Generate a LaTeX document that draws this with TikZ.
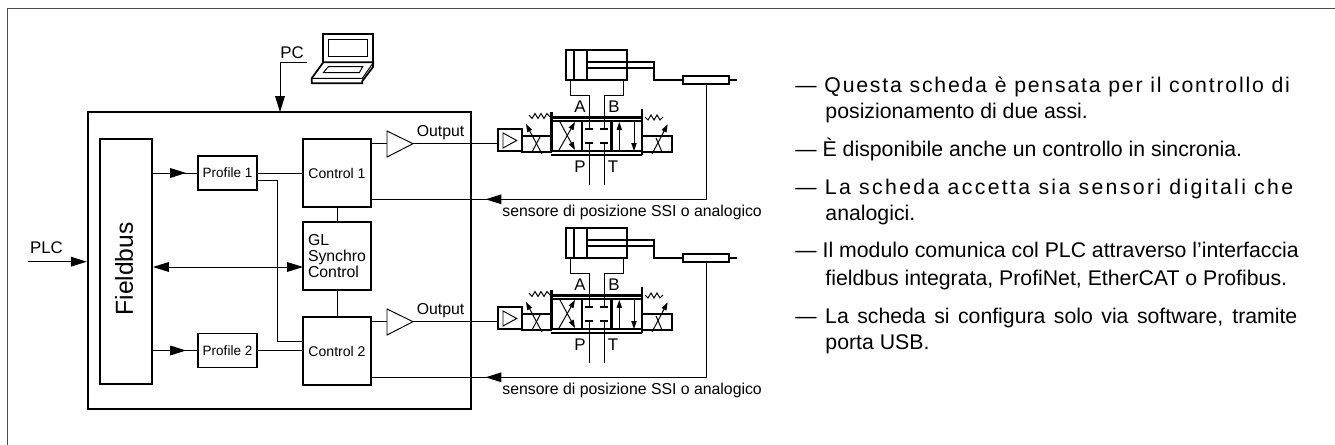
\documentclass[tikz,border=0pt]{standalone}
\usepackage{fontspec}
\setmainfont{Liberation Sans}
\newfontfamily\spreadA[LetterSpace=8.4]{Liberation Sans}
\newfontfamily\spreadB[LetterSpace=11]{Liberation Sans}
\usetikzlibrary{arrows.meta,decorations.markings}

\tikzset{
  thinline/.style={line width=0.55pt},
  midline/.style={line width=1pt},
  fatline/.style={line width=1.3pt},
  blockbox/.style={draw,line width=1.1pt,inner sep=0pt,align=center},
  sidetext/.style={anchor=base west,inner sep=0pt,font=\fontsize{12.1}{14}\selectfont},
  smalltext/.style={inner sep=0pt,font=\fontsize{9}{9}\selectfont},
  porttext/.style={inner sep=0pt,font=\fontsize{9.6}{10}\selectfont},
  bigtip/.style={-{Stealth[inset=0pt,length=9pt,width=5.5pt]}},
  midtip/.style={postaction={decorate},decoration={markings,
    mark=at position #1 with {\arrow{Stealth[inset=0pt,length=9pt,width=5.5pt]}}}},
}

\begin{document}
\begin{tikzpicture}[x=0.02cm,y=-0.02cm,thinline,>={Stealth[inset=0pt,length=4.5pt,width=3pt]}]
\useasboundingbox (0,0) rectangle (1335,445);
% ---------- cornice ----------
\draw[line width=0.9pt,black!70] (7.5,445) -- (7.5,8.5) -- (1335,8.5);
% ---------- modulo ----------
\node[blockbox,line width=1.4pt,minimum width=7.66cm,minimum height=5.94cm] (scheda) at (279.5,260.5) {};
\node[blockbox,minimum width=1.04cm,minimum height=4.9cm] (fieldbus) at (126,261.5) {};
\node[rotate=90,inner sep=0pt,font=\fontsize{14}{14}\selectfont] (fieldbuslabel) at (124,269) {Fieldbus};
\node[blockbox,minimum width=1.18cm,minimum height=0.68cm,font=\fontsize{7.7}{8}\selectfont] (profileA) at (227.5,173) {Profile 1};
\node[blockbox,minimum width=1.18cm,minimum height=0.68cm,font=\fontsize{7.7}{8}\selectfont] (profileB) at (227.5,350.5) {Profile 2};
\node[blockbox,minimum width=1.36cm,minimum height=1.36cm,font=\fontsize{8}{8}\selectfont] (controlA) at (337,173) {Control 1};
\node[blockbox,minimum width=1.36cm,minimum height=1.36cm,font=\fontsize{9}{9}\selectfont,align=left] (synchro) at (337,256) {GL\\Synchro\\Control};
\node[blockbox,minimum width=1.36cm,minimum height=1.36cm,font=\fontsize{8}{8}\selectfont] (controlB) at (337,351) {Control 2};
% ingressi PC e PLC
\node[porttext] (pclabel) at (292,53) {PC};
\node[porttext] (plclabel) at (46.5,248) {PLC};
\coordinate (pcstart) at (307,62.7);
\coordinate (plcstart) at (28,261.7);
\coordinate (synchroport) at (303,267);
\coordinate (profileAout) at (257,180);
\draw[bigtip] (pcstart) -- (280,62.7) -- (280,112);
\draw[bigtip] (plcstart) -- (plcstart -| scheda.west);
% collegamenti interni
\draw[midtip=0.75] (profileA.west -| fieldbus.east) -- (profileA.west);
\draw[midtip=0.75] (profileB.west -| fieldbus.east) -- (profileB.west);
\draw (profileA.east) -- (controlA.west);
\draw (profileB.east) -- (profileB.east -| controlB.west);
\draw (profileAout) -- (277,180) -- (277,341) -- (303,341);
\draw[{Stealth[inset=0pt,length=9pt,width=5.5pt]}-{Stealth[inset=0pt,length=9pt,width=5.5pt]}] (fieldbus.east |- synchroport) -- (synchroport);
\draw (controlA.south) -- (synchro.north);
\draw (synchro.south) -- (controlB.north);
% ---------- PC ----------
\begin{scope}[midline]
\draw (323.3,61.7) -- (323.3,34) -- (373.3,34) -- (373.3,61.7);
\draw[thinline] (328.3,39.3) rectangle (367.7,56.7);
\draw (323.3,62.3) -- (373.3,62.3) -- (373,67) -- (362.3,81) -- (362.3,83.3) -- (311.7,83.3) -- (311.7,78.3) -- cycle;
\draw[thinline] (311.7,78.3) -- (362.3,78.3) -- (373,63);
\draw[thinline] (328.3,66.7) -- (362.7,66.7) -- (359.3,72.7) -- (323.3,72.7) -- cycle;
\end{scope}
% ---------- assi ----------
\foreach \n/\dy/\ctrl in {A/0/controlA,B/178/controlB}{
\begin{scope}[shift={(0,\dy)}]
% cilindro e stelo
\draw[midline] (566,50) rectangle (627,80);
\draw[midline] (574,50) -- (574,80);
\draw[midline] (587.3,50) -- (587.3,80);
\draw[midline] (587.3,62) -- (654,62) -- (654,80) -- (683,80);
\draw[midline] (587.3,68.3) -- (654,68.3);
\node[blockbox,fill=white,minimum width=0.92cm,minimum height=0.15cm] (sensor\n) at (706,80) {};
\draw[midline] (sensor\n.east) -- (736.7,80);
% linee A B P T
\draw (570,80) -- (570,95) -- (589,95) -- (589,129);
\draw (623,80) -- (623,95) -- (604,95) -- (604,129);
\draw (589,143) -- (589,185);
\draw (604,143) -- (604,185);
\draw[midline] (585,129) -- (593,129) (600,129) -- (608,129);
\draw[midline] (585,143) -- (593,143) (600,143) -- (608,143);
\node[porttext] (porta\n) at (580,107) {A};
\node[porttext] (portb\n) at (614,107) {B};
\node[porttext] (portp\n) at (580,167) {P};
\node[porttext] (portt\n) at (613,167) {T};
% valvola
\draw[fatline] (551,117.5) -- (642,117.5);
\draw[midline] (551,121) -- (642,121);
\draw[fatline] (551,155) -- (642,155);
\draw[midline] (551,151) -- (642,151);
\draw[fatline] (551.5,112) -- (551.5,151);
\draw[fatline] (582,121) -- (582,151);
\draw[fatline] (611.5,121) -- (611.5,151);
\draw[midline] (642,109) -- (642,155);
% sezione a croce e sezione parallela
\draw[->,thinline] (559,150) -- (575,122);
\draw[->,thinline] (560,122) -- (575,150);
\draw[->,thinline] (619.3,151) -- (619.3,122);
\draw[->,thinline] (634,121) -- (634,151);
% pilota e molle
\node[blockbox,minimum width=0.48cm,minimum height=0.44cm] (pilot\n) at (510,140) {};
\draw[thinline] (503,133) -- (503,148) -- (516.7,140.5) -- cycle;
\draw[midline] (522,136) rectangle (551,151.7);
\draw[midline] (642,136) -- (672,136) -- (672,151.7) -- (642,151.7);
\draw[->,thinline] (542,154) -- (526,124);
\draw[thinline] (532,152) -- (540,137);
\draw[->,thinline] (652,154) -- (667.7,124.3);
\draw[thinline] (656,138) -- (662,152);
\draw[thinline] (529,115) -- ++(3,3.5) -- ++(3,-5) -- ++(3,5) -- ++(3,-5) -- ++(3,5) -- ++(3,-5) -- ++(3,3.5);
\draw[thinline] (645,117) -- ++(3,3) -- ++(3,-5) -- ++(3,5) -- ++(3,-5) -- ++(3,5) -- ++(3,-3);
% amplificatore e linee di uscita
\draw[thinline] (387,131) -- (387,157) -- (413,143.7) -- cycle;
\coordinate (amptip\n) at (413,143.7);
\node[smalltext] (output\n) at (440.5,133) {Output};
\draw (amptip\n -| \ctrl.east) -- (387,143.7);
\draw (amptip\n) -- (amptip\n -| pilot\n.west);
% ritorno sensore
\draw[midtip=0.745] (sensor\n.south) -- (706,199.3) -- (371,199.3);
\node[smalltext,anchor=west] (sensorlabel\n) at (502,212.6) {sensore di posizione SSI o analogico};
\end{scope}
}
% ---------- testo ----------
\node[sidetext] (rigaA) at (795,92.3) {\spreadA — Questa scheda è pensata per il controllo di};
\node[sidetext] (rigaB) at (825,119) {posizionamento di due assi.};
\node[sidetext] (rigaC) at (795,157) {— È disponibile anche un controllo in sincronia.};
\node[sidetext] (rigaD) at (795,195) {\spreadB — La scheda accetta sia sensori digitali che};
\node[sidetext] (rigaE) at (825,221) {analogici.};
\node[sidetext] (rigaF) at (795,258) {— Il modulo comunica col PLC attraverso l’interfaccia};
\node[sidetext] (rigaG) at (825,285.7) {fieldbus integrata, ProfiNet, EtherCAT o Profibus.};
\node[sidetext] (rigaH) at (795,324) {\makebox[10.04cm][s]{— La scheda si configura solo via software, tramite}};
\node[sidetext] (rigaI) at (825,350) {porta USB.};
\end{tikzpicture}
\end{document}
